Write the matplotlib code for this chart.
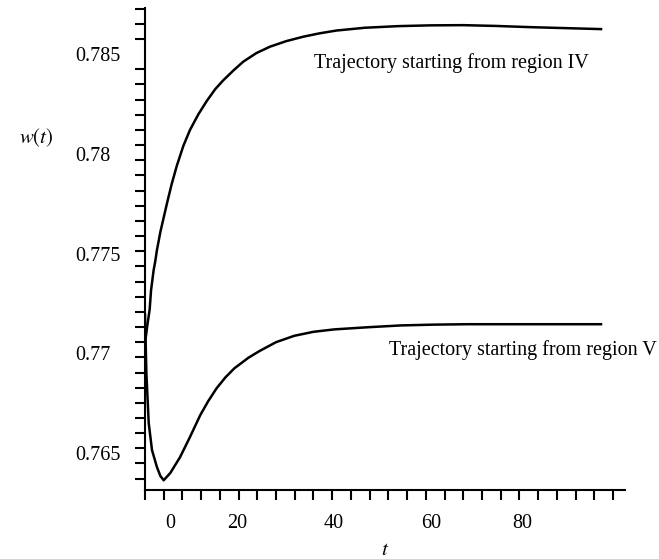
import numpy as np
import matplotlib
matplotlib.use('Agg')
import matplotlib.pyplot as plt

# trajectory starting from region IV
t_iv = [0, 0.5, 1.0, 1.3, 1.85, 2.2, 2.55, 3.3, 4.7, 5.7, 6.8, 8.2, 9.6, 11.4, 13.2, 15.0,
        16.7, 18.9, 21.0, 23.8, 26.7, 30.2, 33.8, 37.3, 40.9, 47, 54, 61, 68, 75, 82.3, 90, 97.7]
w_iv = [0.7705, 0.7714, 0.7722, 0.77317, 0.77417, 0.77462, 0.77517, 0.77610, 0.77752, 0.77848,
        0.77940, 0.78040, 0.78119, 0.78198, 0.78265, 0.78324, 0.78368, 0.78418, 0.78462,
        0.78505, 0.78537, 0.78565, 0.78587, 0.78604, 0.78618, 0.78632, 0.78640, 0.78644,
        0.78645, 0.78641, 0.78635, 0.78630, 0.78625]

# trajectory starting from region V
t_v = [0, 0.3, 0.8, 1.5, 2.55, 3.3, 4.0, 5.4, 7.5, 9.6, 11.8, 13.5, 15.3, 17.2, 19.1, 22.1,
       24.5, 28.0, 31.9, 36.0, 40.4, 47.7, 54.7, 61.8, 68.9, 80, 90, 97.7]
w_v = [0.7720, 0.7690, 0.7665, 0.76515, 0.76430, 0.76385, 0.76364, 0.76400, 0.76480, 0.76580,
       0.76690, 0.76760, 0.76825, 0.76880, 0.76925, 0.76978, 0.77012, 0.77056, 0.77088,
       0.77108, 0.77120, 0.77131, 0.77140, 0.77144, 0.77146, 0.77146, 0.77146, 0.77146]

xtick_labels = ['0', '20', '40', '60', '80']
xtick_pos = [5.3, 19.8, 40.4, 61.1, 80.6]
ytick_labels = ['0.785', '0.78', '0.775', '0.77', '0.765']
ytick_pos = [0.785, 0.780, 0.775, 0.770, 0.765]

plt.rcParams['font.family'] = ['Liberation Serif', 'DejaVu Serif']
plt.rcParams['mathtext.fontset'] = 'stix'

fig = plt.figure(figsize=(6.59, 5.59), dpi=100)
ax = fig.add_axes([0.220, 0.1234, 0.728, 0.8623])

ax.plot(t_iv, w_iv, color='black', lw=1.8, solid_capstyle='butt')
ax.plot(t_v, w_v, color='black', lw=1.8, solid_capstyle='butt')

ax.set_xlim(0, 102.5)
ax.set_ylim(0.76315, 0.78731)

for s in ['top', 'right']:
    ax.spines[s].set_visible(False)
for s in ['left', 'bottom']:
    ax.spines[s].set_linewidth(1.5)

# labels sit apart from the tick marks, as in the original
ax.set_xticks(xtick_pos)
ax.set_xticklabels(xtick_labels, fontsize=14.5)
ax.set_xticks(np.arange(0, 101, 4), minor=True)
ax.set_yticks(ytick_pos)
ax.set_yticklabels(ytick_labels, fontsize=14.5, ha='left')
ax.set_yticks(0.785 - np.arange(-3, 29) * 0.00076, minor=True)
ax.tick_params(axis='x', which='major', length=0, pad=17)
ax.tick_params(axis='y', which='major', length=0, pad=50)
ax.tick_params(axis='x', which='minor', direction='out', length=7, width=1.5)
ax.tick_params(axis='y', which='minor', direction='out', length=7, width=1.5)

ax.set_xlabel('$t$', fontsize=15, labelpad=6)
ax.text(-0.227, 0.7808, '$w(t)$', fontsize=15, ha='center', va='center',
        transform=ax.get_yaxis_transform())

ax.text(36.2, 0.78455, 'Trajectory starting from region IV', fontsize=14.5, va='center')
ax.text(52.1, 0.77016, 'Trajectory starting from region V', fontsize=14.5, va='center')

fig.savefig('out.png', dpi=100)
